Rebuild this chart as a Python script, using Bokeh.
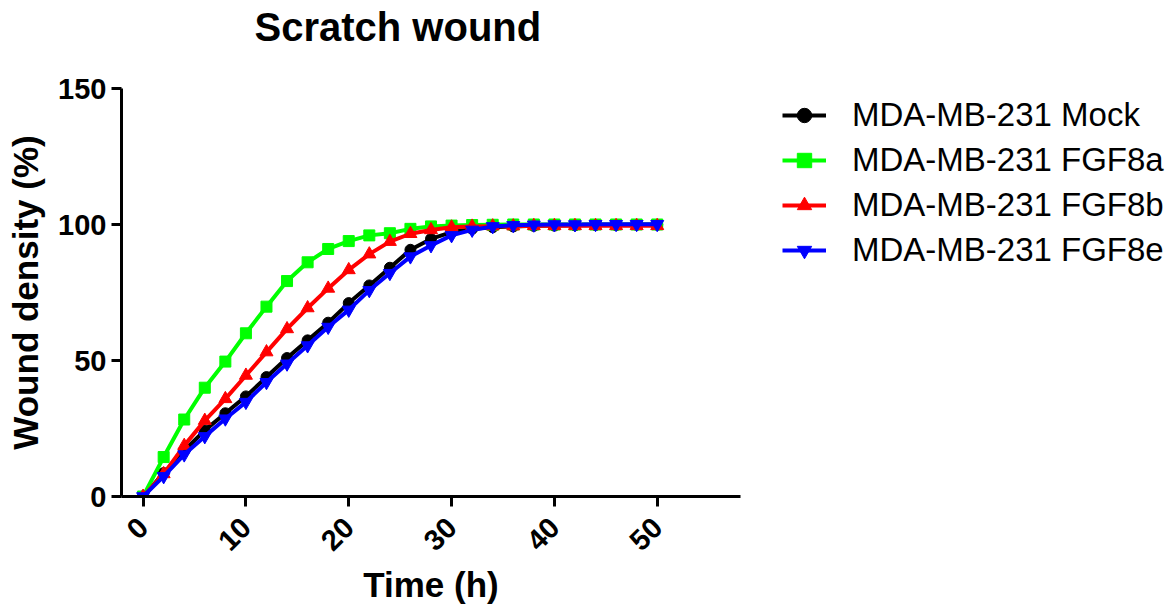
import math
from bokeh.plotting import figure
from bokeh.layouts import row
from bokeh.models import Range1d, FixedTicker, Legend, LegendItem, Title
from bokeh.embed import file_html
from bokeh.resources import INLINE

# ---- data ----
hours = list(range(0, 51, 2))
mock = [0, 8.6, 16.9, 24.3, 30.6, 36.8, 43.9, 50.9, 57.4, 63.9, 71.1, 77.6, 84.1,
        90.7, 94.7, 97.2, 98.4, 99.0, 99.3, 99.5, 99.6, 99.7, 99.8, 99.8, 99.9, 99.9]
fgf8a = [0, 14.5, 28.3, 40.0, 49.6, 60.0, 69.8, 79.2, 86.1, 91.0, 93.9, 96.0, 96.8,
         98.4, 99.3, 99.6, 99.8, 99.9, 100, 100, 100, 100, 100, 100, 100, 100]
fgf8b = [0, 8.3, 18.7, 27.9, 35.9, 44.5, 53.1, 61.6, 69.3, 76.5, 83.3, 89.1, 93.7,
         96.6, 98.0, 99.0, 99.3, 99.4, 99.4, 99.5, 99.5, 99.5, 99.5, 99.5, 99.5, 99.5]
fgf8e = [0, 7.4, 15.4, 22.1, 28.6, 34.7, 42.0, 48.8, 55.5, 62.3, 68.6, 75.8, 82.1,
         88.2, 92.3, 96.0, 98.0, 99.3, 99.7, 99.9, 100, 100, 100.1, 100.1, 100.1, 100.1]
series_names = ["MDA-MB-231 Mock", "MDA-MB-231 FGF8a", "MDA-MB-231 FGF8b", "MDA-MB-231 FGF8e"]
series_values = [mock, fgf8a, fgf8b, fgf8e]
series_colors = ["#000000", "#00FF00", "#FF0000", "#0000FF"]
series_markers = ["circle", "square", "triangle", "inverted_triangle"]
series_sizes = [11, 11, 13, 13]
x_ticks = [0, 10, 20, 30, 40, 50]
y_ticks = [0, 50, 100, 150]

FONT = "Liberation Sans"

p = figure(width=760, height=608, output_backend="svg", toolbar_location=None,
           x_range=Range1d(-2.1, 58.1), y_range=Range1d(0, 150),
           min_border_left=121, min_border_right=20, min_border_top=88,
           min_border_bottom=112, title="Scratch wound")

p.outline_line_color = None
p.grid.visible = False
p.background_fill_color = "white"
p.border_fill_color = "white"

p.title.text_font = FONT
p.title.text_font_size = "40px"
p.title.text_font_style = "bold"
p.title.text_color = "black"
p.title.align = "left"
p.title.offset = 133
p.title.standoff = 0

# blank spacer between title and plot frame
p.add_layout(Title(text=" ", text_font_size="2px", standoff=36), "above")

for ax in (p.xaxis[0], p.yaxis[0]):
    ax.axis_line_width = 3
    ax.major_tick_line_width = 3
    ax.major_tick_out = 10
    ax.major_tick_in = 0
    ax.minor_tick_out = 0
    ax.minor_tick_in = 0
    ax.major_label_text_font = FONT
    ax.major_label_text_font_style = "bold"
    ax.major_label_text_font_size = "29px"
    ax.major_label_text_color = "black"
    ax.axis_label_text_font = FONT
    ax.axis_label_text_font_style = "bold"
    ax.axis_label_text_font_size = "35px"
    ax.axis_label_text_color = "black"

p.xaxis[0].ticker = FixedTicker(ticks=x_ticks)
p.yaxis[0].ticker = FixedTicker(ticks=y_ticks)
p.xaxis[0].major_label_orientation = math.pi / 4
p.xaxis[0].axis_label = "Time (h)"
p.yaxis[0].axis_label = "Wound density (%)"
p.yaxis[0].major_label_standoff = 5
p.yaxis[0].axis_label_standoff = 10
p.xaxis[0].major_label_standoff = 16
p.xaxis[0].axis_label_standoff = 3

for vals, col, mk, sz in zip(series_values, series_colors, series_markers, series_sizes):
    p.line(hours, vals, line_color=col, line_width=4)
    p.scatter(hours, vals, marker=mk, size=sz, fill_color=col, line_color=col)

# ---- legend panel (separate figure to the right) ----
lg = figure(width=416, height=608, output_backend="svg", toolbar_location=None,
            x_range=Range1d(1000, 1001), y_range=Range1d(1000, 1001),
            min_border=0, x_axis_location=None, y_axis_location=None)
lg.outline_line_color = None
lg.grid.visible = False
lg.background_fill_color = "white"
lg.border_fill_color = "white"

items = []
for name, vals, col, mk in zip(series_names, series_values, series_colors, series_markers):
    lr = lg.line(hours, vals, line_color=col, line_width=4)
    sr = lg.scatter(hours, vals, marker=mk, size=7, fill_color=col, line_color=col)
    items.append(LegendItem(label=name, renderers=[lr, sr]))

legend = Legend(items=items, location=(22, 227))
legend.label_text_font = FONT
legend.label_text_font_size = "33px"
legend.label_text_color = "black"
legend.glyph_width = 44
legend.glyph_height = 36
legend.label_height = 36
legend.label_standoff = 26
legend.spacing = 7
legend.padding = 8
legend.margin = 0
legend.border_line_color = None
legend.background_fill_alpha = 0
lg.add_layout(legend)

open("out.html", "w").write(file_html(row(p, lg), INLINE))
